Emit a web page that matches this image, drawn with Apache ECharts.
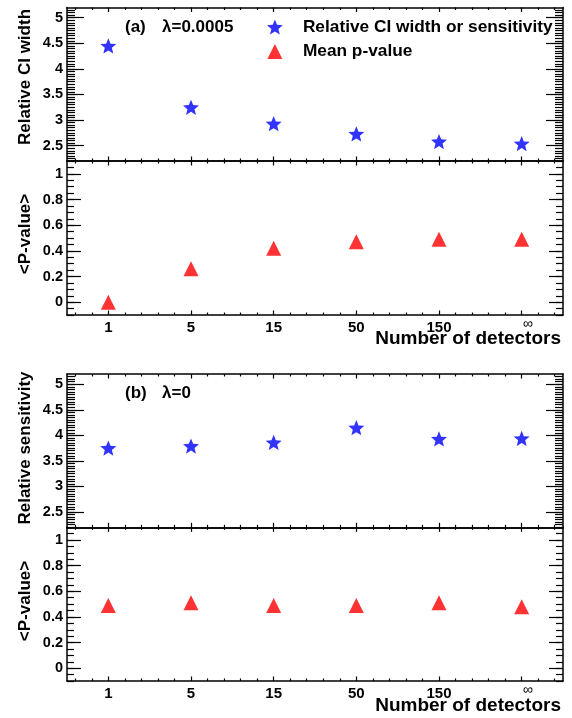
<!DOCTYPE html>
<html>
<head>
<meta charset="utf-8">
<script src="https://cdn.jsdelivr.net/npm/echarts@6/dist/echarts.min.js"></script>
<style>html,body{margin:0;padding:0;background:#fff}#c{width:572px;height:718px}</style>
</head>
<body>
<div id="c"></div>
<script>
// ---- data ----
const categories = ['1', '5', '15', '50', '150', '∞'];
const relCIWidthA = [4.45, 3.25, 2.93, 2.73, 2.58, 2.54];
const meanPValueA = [0.00, 0.26, 0.42, 0.47, 0.49, 0.49];
const relSensitivityB = [3.75, 3.79, 3.86, 4.15, 3.93, 3.94];
const meanPValueB = [0.49, 0.51, 0.49, 0.49, 0.51, 0.48];
const upperTicks = ['2.5', '3', '3.5', '4', '4.5', '5'];
const lowerTicks = ['0', '0.2', '0.4', '0.6', '0.8', '1'];
const legendNames = ['Relative CI width or sensitivity', 'Mean p-value'];

const FONT = '"Liberation Sans", Arial, Helvetica, sans-serif';
const STAR = 'path://M0,-10 L2.6,-3.6 L9.51,-3.09 L4.2,1.4 L5.88,8.09 L0,4.4 L-5.88,8.09 L-4.2,1.4 L-9.51,-3.09 L-2.6,-3.6 Z';
const TRI = 'path://M0,-10 L10,10 L-10,10 Z';

function steps(a, b, s) {
  const out = [];
  for (let k = 0; a + k * s <= b + 1e-9; k++) out.push(Math.round((a + k * s) * 1000) / 1000);
  return out;
}
const xMajor = categories.map((c, i) => i + 1);
const xMinor = steps(0.6, 6.4, 0.2).filter(v => Math.abs(v - Math.round(v)) > 1e-6);

const grids = [
  {left: 67, right: 9, top: 7.5, height: 153.5},
  {left: 67, right: 9, top: 161, height: 154},
  {left: 67, right: 9, top: 374, height: 153.3},
  {left: 67, right: 9, top: 527.3, height: 153.7}
];
const panels = [
  {min: 2.2, max: 5.2, major: upperTicks.map(Number), minor: steps(2.25, 5.15, 0.05), majLen: 17, minLen: 8, xLabels: false},
  {min: -0.1, max: 1.1, major: lowerTicks.map(Number), minor: steps(-0.1, 1.1, 0.05), majLen: 14, minLen: 7, xLabels: true},
  {min: 2.2, max: 5.2, major: upperTicks.map(Number), minor: steps(2.25, 5.15, 0.05), majLen: 17, minLen: 8, xLabels: false},
  {min: -0.1, max: 1.1, major: lowerTicks.map(Number), minor: steps(-0.1, 1.1, 0.05), majLen: 14, minLen: 7, xLabels: true}
];

const lineS = {color: '#000', width: 1.5};
const tickS = {color: '#000', width: 1.2};
const xAxis = [], yAxis = [];
panels.forEach((p, g) => {
  ['bottom', 'top'].forEach(pos => {
    xAxis.push({
      type: 'value', gridIndex: g, min: 0.5, max: 6.5, position: pos,
      axisLine: {show: true, onZero: false, lineStyle: lineS},
      splitLine: {show: false},
      axisTick: {show: true, inside: true, length: 4.5, customValues: xMajor, lineStyle: tickS},
      axisLabel: {
        show: pos === 'bottom' && p.xLabels, customValues: xMajor, margin: 5,
        color: '#000', fontFamily: FONT, fontWeight: 'bold', fontSize: 15,
        formatter: v => { const c = categories[Math.round(v) - 1]; return c === '∞' ? '{inf|∞}' : c; },
        rich: {inf: {fontFamily: FONT, fontWeight: 'normal', fontSize: 14, lineHeight: 9, color: '#000', padding: [0, 0, 0, 12]}}
      }
    });
    xAxis.push({
      type: 'value', gridIndex: g, min: 0.5, max: 6.5, position: pos,
      axisLine: {show: false, onZero: false}, splitLine: {show: false}, axisLabel: {show: false},
      axisTick: {show: true, inside: true, length: 2.5, customValues: xMinor, lineStyle: tickS}
    });
  });
  ['left', 'right'].forEach(pos => {
    yAxis.push({
      type: 'value', gridIndex: g, min: p.min, max: p.max, position: pos,
      axisLine: {show: true, onZero: false, lineStyle: lineS},
      splitLine: {show: false},
      axisTick: {show: true, inside: true, length: p.majLen, customValues: p.major, lineStyle: tickS},
      axisLabel: {
        show: pos === 'left', customValues: p.major, margin: 4,
        color: '#000', fontFamily: FONT, fontWeight: 'bold', fontSize: 14.5
      }
    });
    yAxis.push({
      type: 'value', gridIndex: g, min: p.min, max: p.max, position: pos,
      axisLine: {show: false, onZero: false}, splitLine: {show: false}, axisLabel: {show: false},
      axisTick: {show: true, inside: true, length: p.minLen, customValues: p.minor, lineStyle: tickS}
    });
  });
});

function pts(vals) { return vals.map((v, i) => [i + 1, v]); }
const series = [
  {name: legendNames[0], type: 'scatter', xAxisIndex: 0, yAxisIndex: 0, data: pts(relCIWidthA),
   symbol: STAR, symbolSize: 16, symbolKeepAspect: true, itemStyle: {color: '#0000ff'}},
  {name: legendNames[1], type: 'scatter', xAxisIndex: 4, yAxisIndex: 4, data: pts(meanPValueA),
   symbol: TRI, symbolSize: 15, symbolKeepAspect: true, itemStyle: {color: '#ff0000'}},
  {name: legendNames[0], type: 'scatter', xAxisIndex: 8, yAxisIndex: 8, data: pts(relSensitivityB),
   symbol: STAR, symbolSize: 16, symbolKeepAspect: true, itemStyle: {color: '#0000ff'}},
  {name: legendNames[1], type: 'scatter', xAxisIndex: 12, yAxisIndex: 12, data: pts(meanPValueB),
   symbol: TRI, symbolSize: 15, symbolKeepAspect: true, itemStyle: {color: '#ff0000'}}
];

function txt(text, x, y, opts) {
  return Object.assign({
    type: 'text', x: x, y: y, silent: true,
    style: Object.assign({text: text, fill: '#000', fontFamily: FONT, fontWeight: 'bold', fontSize: 17,
      align: 'left', verticalAlign: 'middle'}, (opts && opts.style) || {})
  }, (opts && opts.el) || {});
}
const graphics = [
  txt('(a)', 125, 27), txt('λ=0.0005', 162, 27),
  txt('(b)', 125, 393), txt('λ=0', 162, 393),
  txt('Relative CI width', 25, 77, {el: {rotation: Math.PI / 2}, style: {align: 'center'}}),
  txt('<P-value>', 25, 234, {el: {rotation: Math.PI / 2}, style: {align: 'center'}}),
  txt('Relative sensitivity', 25, 448, {el: {rotation: Math.PI / 2}, style: {align: 'center'}}),
  txt('<P-value>', 25, 601, {el: {rotation: Math.PI / 2}, style: {align: 'center'}}),
  txt('Number of detectors', 561, 339, {style: {align: 'right', fontSize: 19}}),
  txt('Number of detectors', 561, 706, {style: {align: 'right', fontSize: 19}})
];

const chart = echarts.init(document.getElementById('c'), null, {renderer: 'canvas'});
chart.setOption({
  animation: false,
  backgroundColor: '#fff',
  grid: grids,
  xAxis: xAxis,
  yAxis: yAxis,
  legend: {
    data: [{name: legendNames[0], icon: STAR}, {name: legendNames[1], icon: TRI}],
    orient: 'vertical', left: 267, top: 18.5, padding: 0,
    itemWidth: 46, itemHeight: 15, itemGap: 7.5, symbolKeepAspect: true,
    selectedMode: false,
    textStyle: {color: '#000', fontFamily: FONT, fontWeight: 'bold', fontSize: 17.3}
  },
  graphic: graphics,
  series: series
});
</script>
</body>
</html>
